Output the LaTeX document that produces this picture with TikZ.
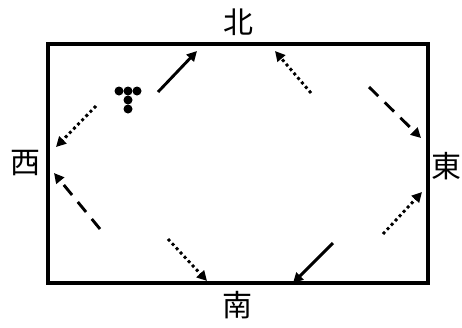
\documentclass[tikz,border=0pt]{standalone}
\usepackage{fontspec}
\newfontfamily\cjk{Noto Sans CJK JP}
\usetikzlibrary{arrows.meta}
\begin{document}
\begin{tikzpicture}[x=1pt,y=-1pt,
  lbl/.style={font=\cjk\fontsize{30}{30}\selectfont, inner sep=0pt},
  arr/.style={line width=2.9pt, -{Triangle[length=10pt,width=10pt]}},
  dotarr/.style={arr, dash pattern=on 2.9pt off 3pt},
  dasharr/.style={arr, dash pattern=on 13pt off 9pt},
  dot/.style={circle, fill=black, inner sep=0pt, minimum size=9pt}]
\useasboundingbox (0,0) rectangle (462,327);
\draw[line width=3.2pt] (48,44) rectangle (428,283);
\node[lbl] (n) at (238,22) {北};
\node[lbl] (s) at (237,305) {南};
\node[lbl] (w) at (25,163) {西};
\node[lbl] (e) at (446,166) {東};
\node[dot] (d1) at (119,91) {};
\node[dot] (d2) at (128,91) {};
\node[dot] (d3) at (137,91) {};
\node[dot] (d4) at (128,100) {};
\node[dot] (d5) at (128,109) {};
\coordinate (a1s) at (158,92); \coordinate (a1e) at (197,51);
\coordinate (a2s) at (96,106); \coordinate (a2e) at (56,147);
\coordinate (a3s) at (311,93); \coordinate (a3e) at (275,51);
\coordinate (a4s) at (369,87); \coordinate (a4e) at (421,138);
\coordinate (a5s) at (100,229); \coordinate (a5e) at (54,173);
\coordinate (a6s) at (168,239); \coordinate (a6e) at (207,281);
\coordinate (a7s) at (383,234); \coordinate (a7e) at (422,192);
\coordinate (a8s) at (333,243); \coordinate (a8e) at (293,283);
\draw[arr] (a1s) -- (a1e);
\draw[dotarr] (a2s) -- (a2e);
\draw[dotarr] (a3s) -- (a3e);
\draw[dasharr] (a4s) -- (a4e);
\draw[dasharr] (a5s) -- (a5e);
\draw[dotarr] (a6s) -- (a6e);
\draw[dotarr] (a7s) -- (a7e);
\draw[arr] (a8s) -- (a8e);
\end{tikzpicture}
\end{document}
